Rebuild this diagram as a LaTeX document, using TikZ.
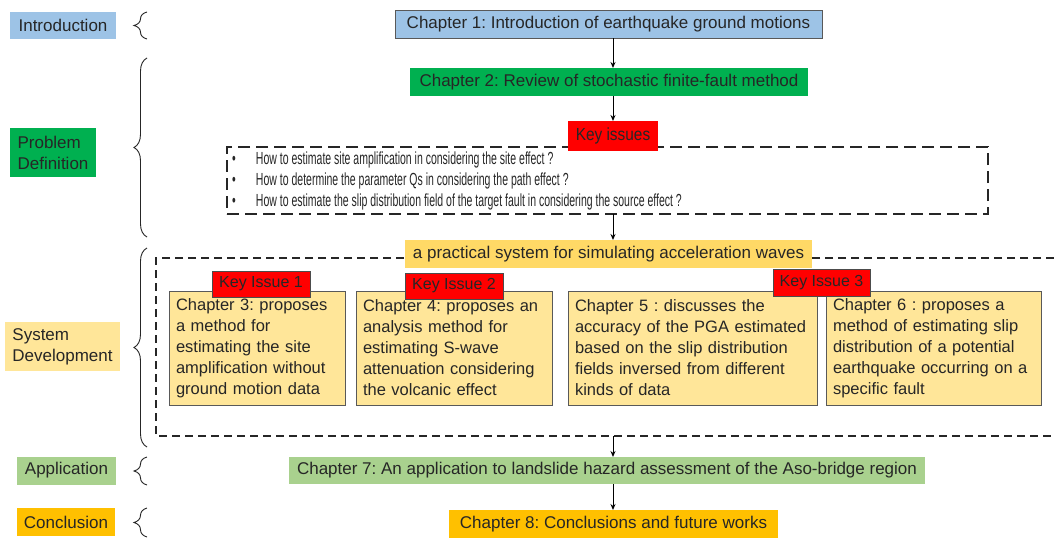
\documentclass[tikz,border=0pt]{standalone}
\usepackage{fontspec}
\setmainfont{Liberation Sans}
\newfontfamily\narrowfont[FakeStretch=0.6]{Liberation Sans}
\newfontfamily\keyfont[FakeStretch=0.88]{Liberation Sans}
\usetikzlibrary{decorations.pathreplacing,arrows.meta}
\definecolor{cblue}{HTML}{9DC3E6}
\definecolor{cgreen}{HTML}{00B050}
\definecolor{clyel}{HTML}{FFE699}
\definecolor{cyel}{HTML}{FFD966}
\definecolor{clgreen}{HTML}{A9D18E}
\definecolor{corange}{HTML}{FFC000}
\definecolor{cred}{HTML}{FF0000}
\definecolor{ctext}{HTML}{262626}
\frenchspacing
\hyphenpenalty=10000
\exhyphenpenalty=10000
\begin{document}
\begin{tikzpicture}[x=1pt,y=-1pt,
  font=\fontsize{17}{21}\selectfont, text=ctext,
  every node/.style={inner sep=0pt, outer sep=0pt},
  chap/.style={draw=gray!70!black, line width=0.8pt},
  keyb/.style={fill=cred, draw=gray!60!black, line width=0.6pt, font=\fontsize{16}{20}\selectfont},
  brc/.style={decorate, decoration={brace, amplitude=13pt, aspect=0.5}, line width=0.9pt, draw=black!85},
  arr/.style={-{Stealth[length=6pt,width=5pt]}, line width=1pt},
  kdash/.style={draw=black!85, line width=1.6pt, dash pattern=on 12pt off 6pt},
  bdash/.style={draw=black!85, line width=1.6pt, dash pattern=on 8pt off 5pt},
  cbox/.style={chap, fill=clyel, minimum height=114, align=left, inner xsep=7pt, font=\fontsize{16.5}{21}\selectfont}
]
\useasboundingbox (0,0) rectangle (1054,538);
\fill[white] (0,0) rectangle (1054,538);

% left labels
\node[fill=cblue, minimum width=106, minimum height=27] (intro) at (63,25) {Introduction};
\node[fill=cgreen, minimum width=86, minimum height=49, align=left] (prob) at (53,152.5) {Problem\\Definition};
\node[fill=clyel, minimum width=115, minimum height=49, align=left] (sys) at (62.5,346.5) {System\\Development};
\node[fill=clgreen, minimum width=99, minimum height=28] (app) at (66.5,470.5) {Application};
\node[fill=corange, minimum width=98, minimum height=28] (conc) at (66,522) {Conclusion};

% braces
\coordinate (b1a) at (147,39);  \coordinate (b1b) at (147,12);
\coordinate (b2a) at (147,237); \coordinate (b2b) at (147,58);
\coordinate (b3a) at (147,447); \coordinate (b3b) at (147,248);
\coordinate (b4a) at (147,485); \coordinate (b4b) at (147,457);
\coordinate (b5a) at (147,537); \coordinate (b5b) at (147,508);
\draw[brc] (b1a) -- (b1b);
\draw[brc] (b2a) -- (b2b);
\draw[brc] (b3a) -- (b3b);
\draw[brc] (b4a) -- (b4b);
\draw[brc] (b5a) -- (b5b);

% main column
\coordinate (ax) at (613,0);
\node[chap, fill=cblue, minimum width=427, minimum height=28] (ch1) at (608.5,24) {Chapter 1: Introduction of earthquake ground motions};
\node[fill=cgreen, minimum width=398, minimum height=28] (ch2) at (609,82) {Chapter 2: Review of stochastic finite-fault method};

\node[kdash, minimum width=761, minimum height=67] (kbox) at (607.5,180.5) {};
\node[anchor=west, align=left, font=\narrowfont\fontsize{17.5}{21}\selectfont] (klist) at (232,180.5)
  {\makebox[24pt][l]{\textbullet}How to estimate site amplification in considering the site effect ?\\
   \makebox[24pt][l]{\textbullet}How to determine the parameter Qs in considering the path effect ?\\
   \makebox[24pt][l]{\textbullet}How to estimate the slip distribution field of the target fault in considering the source effect ?};
\node[fill=cred, minimum width=90, minimum height=30, font=\keyfont\fontsize{17.5}{20}\selectfont] (kred) at (613,136) {Key issues};

% system development
\coordinate (bigtl) at (156,258);
\coordinate (bigbl) at (156,436);
\coordinate (bigtr) at (1054,258);
\coordinate (bigbr) at (1054,436);
\coordinate (bigbot) at (613,436);
\draw[bdash] (bigtr) -- (bigtl) -- (bigbl) -- (bigbr);
\node[fill=cyel, minimum width=407, minimum height=28] (prac) at (608.5,254) {a practical system for simulating acceleration waves};

\node[cbox, text width=162] (ch3) at (257,348) {Chapter 3: proposes\\a method for\\estimating the site\\amplification without\\ground motion data};
\node[cbox, text width=182] (ch4) at (454,348) {Chapter 4: proposes an\\analysis method for\\estimating S-wave\\attenuation considering\\the volcanic effect};
\node[cbox, text width=235] (ch5) at (692.5,348) {Chapter 5 : discusses the\\accuracy of the PGA estimated\\based on the slip distribution\\fields inversed from different\\kinds of data};
\node[cbox, text width=201] (ch6) at (933.5,348) {Chapter 6 : proposes a\\method of estimating slip\\distribution of a potential\\earthquake occurring on a\\specific fault};

\node[keyb, minimum width=98, minimum height=26] (k1) at (261,284) {Key Issue 1};
\node[keyb, minimum width=98, minimum height=26] (k2) at (454,286) {Key Issue 2};
\node[keyb, minimum width=97, minimum height=27] (k3) at (821.5,282.5) {Key Issue 3};

\node[fill=clgreen, minimum width=636, minimum height=27] (ch7) at (607,470.5) {Chapter 7: An application to landslide hazard assessment of the Aso-bridge region};
\node[fill=corange, minimum width=329, minimum height=28] (ch8) at (613.5,524) {Chapter 8: Conclusions and future works};

% arrows
\draw[arr] (ch1.south -| ax) -- (ch2.north -| ax);
\draw[arr] (ch2.south -| ax) -- (kred.north -| ax);
\draw[arr] (kbox.south -| ax) -- (prac.north -| ax);
\draw[arr] (bigbot) -- (ch7.north -| ax);
\draw[arr] (ch7.south -| ax) -- (ch8.north -| ax);
\end{tikzpicture}
\end{document}
